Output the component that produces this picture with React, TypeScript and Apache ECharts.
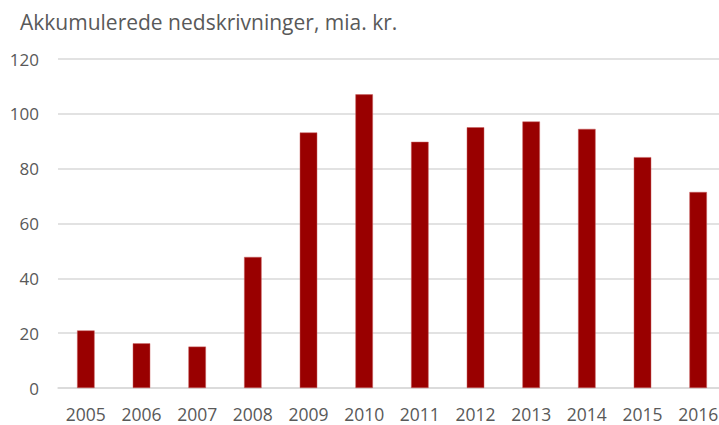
import React, { useEffect, useRef } from "react";
import * as echarts from "echarts";

const titleText = "Akkumulerede nedskrivninger, mia. kr.";
const years = ["2005", "2006", "2007", "2008", "2009", "2010", "2011", "2012", "2013", "2014", "2015", "2016"];
const values = [21.0, 16.3, 15.1, 47.8, 93.2, 107.1, 89.8, 95.1, 97.2, 94.5, 84.2, 71.5];
const yTicks = { min: 0, max: 120, interval: 20 };

export default function App() {
  const ref = useRef<HTMLDivElement>(null);
  useEffect(() => {
    const chart = echarts.init(ref.current!, null, { renderer: "svg" });
    chart.setOption({
      animation: false,
      title: {
        text: titleText,
        left: 15,
        top: 6,
        textStyle: { fontFamily: "Open Sans", fontSize: 21, fontWeight: "normal", color: "#595959" },
      },
      grid: { left: 58, right: 1, top: 59, bottom: 37, containLabel: false },
      xAxis: {
        type: "category",
        data: years,
        axisLine: { show: true, lineStyle: { color: "#d9d9d9", width: 1.5 } },
        axisTick: { show: false },
        axisLabel: { color: "#595959", fontFamily: "Open Sans", fontSize: 17.5, margin: 17 },
      },
      yAxis: {
        type: "value",
        min: yTicks.min,
        max: yTicks.max,
        interval: yTicks.interval,
        axisLine: { show: false },
        axisTick: { show: false },
        splitLine: { lineStyle: { color: "#d9d9d9", width: 1.5 } },
        axisLabel: { color: "#595959", fontFamily: "Open Sans", fontSize: 17, margin: 19 },
      },
      series: [
        {
          type: "bar",
          data: values,
          barWidth: 17.5,
          itemStyle: { color: "#990000", borderColor: "#c86060", borderWidth: 0.5 },
        },
      ],
    });
    return () => chart.dispose();
  }, []);
  return (
    <div style={{ position: "fixed", left: 0, top: 0, width: 719, height: 425, overflow: "hidden", background: "#fff" }}>
      <div ref={ref} style={{ width: 727, height: 425 }} />
    </div>
  );
}
